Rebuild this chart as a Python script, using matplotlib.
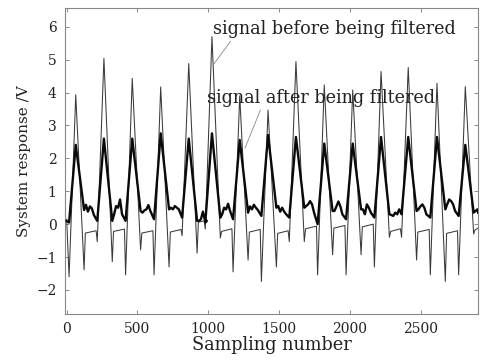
import numpy as np
import matplotlib
matplotlib.use("Agg")
import matplotlib.pyplot as plt

# ---------------- data ----------------
peak_x = [64, 263, 463, 664, 862, 1026, 1222, 1422, 1619, 1819, 2020, 2220, 2412, 2615, 2815]
raw_peak = [3.93, 5.04, 4.43, 4.17, 4.88, 5.70, 3.90, 3.47, 4.94, 4.23, 4.08, 4.64, 4.76, 4.28, 4.18]
raw_pre_dip = [-1.60, -0.53, -1.54, -1.54, -0.35, -0.15, -1.45, -1.74, -0.53, -1.54, -1.54, -1.30, -0.40, -1.54, -1.54]
raw_post_dip = [-1.39, -1.14, -0.78, -1.30, -0.88, -0.42, -1.09, -1.30, -0.53, -0.93, -0.93, -0.40, -1.09, -1.74, -0.30]
raw_plateau_start = [-0.27, -0.22, -0.27, -0.24, 0.06, -0.22, -0.24, -0.28, -0.14, -0.12, -0.08, -0.22, -0.24, -0.28, -0.18]
raw_plateau_end = [-0.20, -0.15, -0.20, -0.16, 0.10, -0.14, -0.16, -0.20, -0.06, -0.04, 0.00, -0.14, -0.16, -0.20, -0.12]

filt_peak = [2.41, 2.60, 2.60, 2.76, 2.60, 2.76, 2.56, 2.71, 2.65, 2.45, 2.45, 2.65, 2.65, 2.65, 2.41]
filt_pre = [0.05, 0.10, 0.10, 0.15, 0.20, 0.05, 0.15, 0.25, 0.20, 0.00, 0.15, 0.20, 0.30, 0.20, 0.25]
filt_post = [0.43, 0.10, 0.40, 0.45, 0.10, 0.20, 0.35, 0.50, 0.50, 0.40, 0.45, 0.30, 0.40, 0.45, 0.35]
filt_plateau = [
    [0.59, 0.38, 0.54, 0.48, 0.28],
    [0.30, 0.55, 0.50, 0.75, 0.30],
    [0.35, 0.42, 0.45, 0.58, 0.40],
    [0.50, 0.45, 0.55, 0.50, 0.45],
    [0.10, 0.15, 0.38, 0.12, 0.10],
    [0.30, 0.50, 0.45, 0.62, 0.40],
    [0.54, 0.45, 0.59, 0.50, 0.43],
    [0.55, 0.38, 0.50, 0.38, 0.30],
    [0.55, 0.60, 0.70, 0.60, 0.35],
    [0.40, 0.54, 0.69, 0.54, 0.30],
    [0.45, 0.30, 0.60, 0.50, 0.35],
    [0.28, 0.25, 0.35, 0.30, 0.45],
    [0.45, 0.54, 0.60, 0.50, 0.30],
    [0.60, 0.75, 0.70, 0.60, 0.40],
    [0.40, 0.45, 0.38, 0.42, 0.35],
]
start_raw, start_filt = 0.15, 0.10
n_samples = 2905

# sample offsets of the waveform landmarks relative to each peak
pre_off, post_off, plat_off = -47, 59, 68
bump_off = [72, 86, 100, 114, 128]

x_ticks = [0, 500, 1000, 1500, 2000, 2500]
y_ticks = [-2, -1, 0, 1, 2, 3, 4, 5, 6]

# ---------------- build key points ----------------
rx, ry = [0], [start_raw]
fx, fy = [0], [start_filt]
for i, p in enumerate(peak_x):
    nxt = peak_x[i + 1] if i + 1 < len(peak_x) else None
    rx += [p + pre_off, p, p + post_off, p + plat_off]
    ry += [raw_pre_dip[i], raw_peak[i], raw_post_dip[i], raw_plateau_start[i]]
    fx += [p + pre_off, p, p + post_off]
    fy += [filt_pre[i], filt_peak[i], filt_post[i]]
    for off, v in zip(bump_off, filt_plateau[i]):
        if p + off < n_samples:
            fx.append(p + off); fy.append(v)
    if nxt is not None:
        rx.append(nxt + pre_off - 8); ry.append(raw_plateau_end[i])
    else:
        rx.append(n_samples); ry.append(raw_plateau_end[i])
        fx.append(n_samples); fy.append(filt_plateau[i][-1])

# ---------------- figure ----------------
plt.rcParams['font.family'] = ['DejaVu Serif']
fig = plt.figure(figsize=(4.86, 3.6), dpi=100)
ax = fig.add_axes([0.1337, 0.1278, 0.8505, 0.85])

ax.plot(rx, ry, color='#3a3a3a', lw=0.75, zorder=2)
ax.plot(fx, fy, color='#0a0a0a', lw=1.7, zorder=3)

ax.set_xlim(-12, 2907)
ax.set_ylim(-2.73, 6.57)
ax.set_xticks(x_ticks)
ax.set_yticks(y_ticks)
ax.set_yticklabels(['\u22122', '\u22121', '0', '1', '2', '3', '4', '5', '6'])
ax.tick_params(direction='in', length=3, width=0.6, top=True, right=True,
               labelsize=10, colors='#222222', pad=6)
ax.tick_params(axis='both', which='both', color='#777777')
for s in ax.spines.values():
    s.set_color('#888888')
    s.set_linewidth(0.8)

ax.set_xlabel('Sampling number', fontsize=12.8, labelpad=0, color='#222222')
ax.set_ylabel('System response /V', fontsize=11, labelpad=4, color='#222222')

ax.annotate('signal before being filtered', xy=(1035, 4.84), xytext=(1035, 5.92),
            fontsize=12.7, color='#222222', va='center', ha='left',
            arrowprops=dict(arrowstyle='-', color='#888888', lw=0.6,
                            shrinkA=0, shrinkB=0, relpos=(0.08, 0.0)))
ax.annotate('signal after being filtered', xy=(1259, 2.31), xytext=(990, 3.83),
            fontsize=12.7, color='#222222', va='center', ha='left',
            arrowprops=dict(arrowstyle='-', color='#888888', lw=0.6,
                            shrinkA=0, shrinkB=0, relpos=(0.24, 0.0)))

fig.savefig('out.png', dpi=100)
